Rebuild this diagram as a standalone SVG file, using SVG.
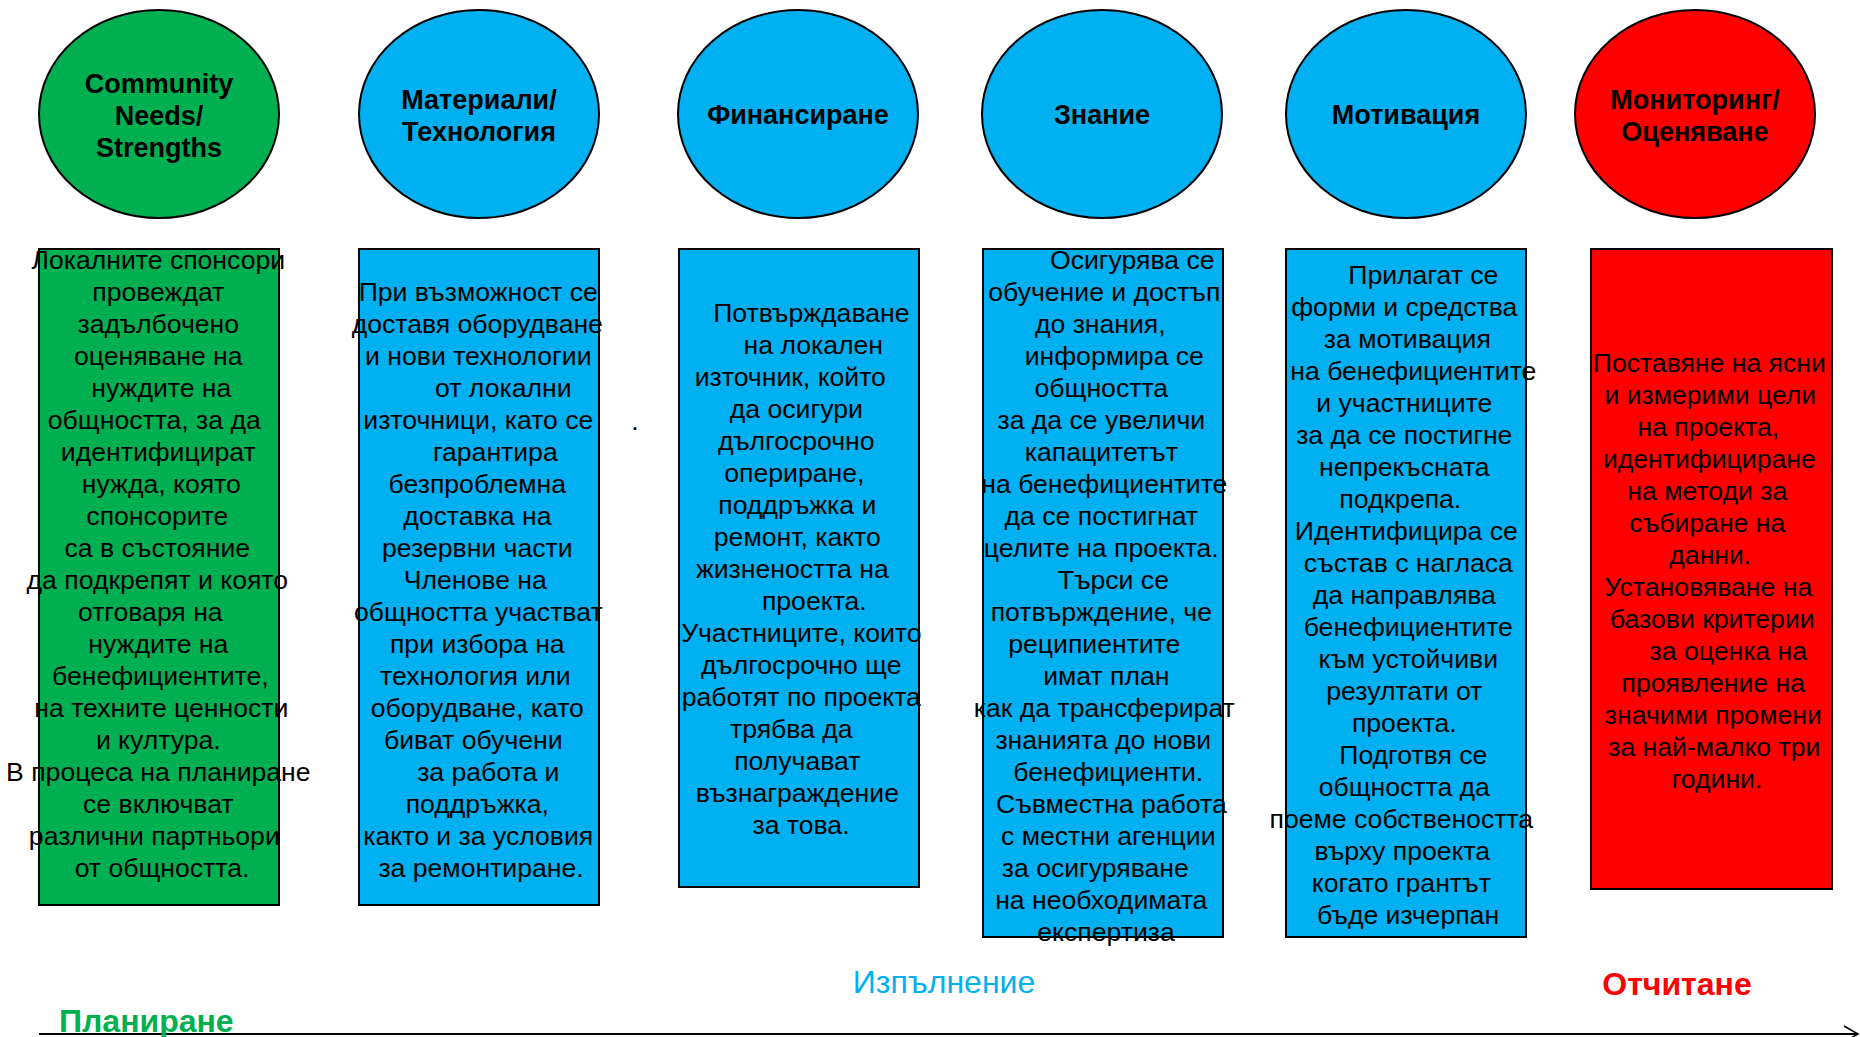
<svg xmlns="http://www.w3.org/2000/svg" width="1860" height="1037" viewBox="0 0 1860 1037">
<style>
.g{fill:#00B050;stroke:#000;stroke-width:2}
.b{fill:#00B0F0;stroke:#000;stroke-width:2}
.r{fill:#FF0000;stroke:#000;stroke-width:2}
.h{font-family:"Liberation Sans",Arial,sans-serif;font-size:27px;font-weight:bold;fill:#000;text-anchor:middle}
.t{font-family:"Liberation Sans",Arial,sans-serif;font-size:26.6px;fill:#000;text-anchor:middle}
.p{font-family:"Liberation Sans",Arial,sans-serif;font-size:32px}
</style>
<defs>
<marker id="arr" markerWidth="20" markerHeight="20" refX="16" refY="10" orient="auto" markerUnits="userSpaceOnUse">
<path d="M2,2 L16,10 L2,18" fill="none" stroke="#000" stroke-width="1.5"/>
</marker>
</defs>
<rect width="1860" height="1037" fill="#fff"/>

<g id="circle-community">
<ellipse class="g" cx="159" cy="114" rx="120" ry="104"/>
<text class="h"><tspan x="159" y="93">Community</tspan><tspan x="159" y="125">Needs/</tspan><tspan x="159" y="157">Strengths</tspan></text>
</g>
<g id="circle-materials">
<ellipse class="b" cx="479" cy="114" rx="120" ry="104"/>
<text class="h"><tspan x="479" y="109">Материали/</tspan><tspan x="479" y="141">Технология</tspan></text>
</g>
<g id="circle-financing">
<ellipse class="b" cx="798" cy="114" rx="120" ry="104"/>
<text class="h" x="798" y="124">Финансиране</text>
</g>
<g id="circle-knowledge">
<ellipse class="b" cx="1102" cy="114" rx="120" ry="104"/>
<text class="h" x="1102" y="124">Знание</text>
</g>
<g id="circle-motivation">
<ellipse class="b" cx="1406" cy="114" rx="120" ry="104"/>
<text class="h" x="1406" y="124">Мотивация</text>
</g>
<g id="circle-monitoring">
<ellipse class="r" cx="1695" cy="114" rx="120" ry="104"/>
<text class="h"><tspan x="1695" y="109">Мониторинг/</tspan><tspan x="1695" y="141">Оценяване</tspan></text>
</g>

<g id="box-community">
<rect class="g" x="39" y="249" width="240" height="656"/>
<text class="t" transform="translate(3,0)">
<tspan x="159" y="269">Локалните спонсори</tspan>
<tspan x="159" y="301">провеждат</tspan>
<tspan x="159" y="333">задълбочено</tspan>
<tspan x="159" y="365">оценяване на</tspan>
<tspan x="162" y="397">нуждите на</tspan>
<tspan x="155" y="429">общността, за да</tspan>
<tspan x="159" y="461">идентифицират</tspan>
<tspan x="162" y="493">нужда, която</tspan>
<tspan x="158" y="525">спонсорите</tspan>
<tspan x="158" y="557">са в състояние</tspan>
<tspan x="158" y="589">да подкрепят и която</tspan>
<tspan x="151" y="621">отговаря на</tspan>
<tspan x="159" y="653">нуждите на</tspan>
<tspan x="161" y="685">бенефициентите,</tspan>
<tspan x="162" y="717">на техните ценности</tspan>
<tspan x="159" y="749">и култура.</tspan>
<tspan x="159" y="781">В процеса на планиране</tspan>
<tspan x="159" y="813">се включват</tspan>
<tspan x="155" y="845">различни партньори</tspan>
<tspan x="159" y="877">от общността.</tspan>
</text>
</g>

<g id="box-materials">
<rect class="b" x="359" y="249" width="240" height="656"/>
<text class="t" transform="translate(3,0)">
<tspan x="479" y="301">При възможност се</tspan>
<tspan x="478" y="333">доставя оборудване</tspan>
<tspan x="479" y="365">и нови технологии</tspan>
<tspan x="504" y="397">от локални</tspan>
<tspan x="479" y="429">източници, като се</tspan>
<tspan x="496" y="461">гарантира</tspan>
<tspan x="478" y="493">безпроблемна</tspan>
<tspan x="478" y="525">доставка  на</tspan>
<tspan x="478" y="557">резервни части</tspan>
<tspan x="476" y="589">Членове на</tspan>
<tspan x="479" y="621">общността участват</tspan>
<tspan x="478" y="653">при избора на</tspan>
<tspan x="476" y="685">технология или</tspan>
<tspan x="478" y="717">оборудване,  като</tspan>
<tspan x="474" y="749">биват обучени</tspan>
<tspan x="489" y="781">за работа и</tspan>
<tspan x="478" y="813">поддръжка,</tspan>
<tspan x="479" y="845">както и за условия</tspan>
<tspan x="478" y="877">за ремонтиране.</tspan>
</text>
</g>

<text class="t" x="635" y="430">.</text>

<g id="box-financing">
<rect class="b" x="679" y="249" width="240" height="638"/>
<text class="t" transform="translate(3,0)">
<tspan x="812" y="322">Потвърждаване</tspan>
<tspan x="814" y="354">на локален</tspan>
<tspan x="791" y="386">източник, който</tspan>
<tspan x="797" y="418">да осигури</tspan>
<tspan x="797" y="450">дългосрочно</tspan>
<tspan x="795" y="482">опериране,</tspan>
<tspan x="798" y="514">поддръжка и</tspan>
<tspan x="798" y="546">ремонт, както</tspan>
<tspan x="793" y="578">жизнеността на</tspan>
<tspan x="815" y="610">проекта.</tspan>
<tspan x="802" y="642">Участниците, които</tspan>
<tspan x="802" y="674">дългосрочно ще</tspan>
<tspan x="802" y="706">работят по проекта</tspan>
<tspan x="792" y="738">трябва да</tspan>
<tspan x="798" y="770">получават</tspan>
<tspan x="798" y="802">възнаграждение</tspan>
<tspan x="798" y="834">за това.</tspan>
</text>
</g>

<g id="box-knowledge">
<rect class="b" x="983" y="249" width="240" height="688"/>
<text class="t" transform="translate(3,0)">
<tspan x="1133" y="269">Осигурява се</tspan>
<tspan x="1105" y="301">обучение и достъп</tspan>
<tspan x="1101" y="333">до знания,</tspan>
<tspan x="1115" y="365">информира се</tspan>
<tspan x="1102" y="397">общността</tspan>
<tspan x="1102" y="429">за да се увеличи</tspan>
<tspan x="1102" y="461">капацитетът</tspan>
<tspan x="1105" y="493">на бенефициентите</tspan>
<tspan x="1102" y="525">да се постигнат</tspan>
<tspan x="1102" y="557">целите на проекта.</tspan>
<tspan x="1114" y="589">Търси се</tspan>
<tspan x="1102" y="621">потвърждение, че</tspan>
<tspan x="1095" y="653">реципиентите</tspan>
<tspan x="1107" y="685">имат план</tspan>
<tspan x="1105" y="717">как да трансферират</tspan>
<tspan x="1104" y="749">знанията до нови</tspan>
<tspan x="1109" y="781">бенефициенти.</tspan>
<tspan x="1112" y="813">Съвместна работа</tspan>
<tspan x="1109" y="845">с местни агенции</tspan>
<tspan x="1096" y="877">за осигуряване</tspan>
<tspan x="1102" y="909">на необходимата</tspan>
<tspan x="1103" y="941">експертиза</tspan>
</text>
</g>

<g id="box-motivation">
<rect class="b" x="1286" y="249" width="240" height="688"/>
<text class="t" transform="translate(3,0)">
<tspan x="1424" y="284">Прилагат се</tspan>
<tspan x="1405" y="316">форми и средства</tspan>
<tspan x="1408" y="348">за мотивация</tspan>
<tspan x="1414" y="380">на бенефициентите</tspan>
<tspan x="1405" y="412">и участниците</tspan>
<tspan x="1405" y="444">за  да се постигне</tspan>
<tspan x="1405" y="476">непрекъсната</tspan>
<tspan x="1401" y="508">подкрепа.</tspan>
<tspan x="1407" y="540">Идентифицира се</tspan>
<tspan x="1409" y="572">състав с нагласа</tspan>
<tspan x="1405" y="604">да направлява</tspan>
<tspan x="1409" y="636">бенефициентите</tspan>
<tspan x="1409" y="668">към устойчиви</tspan>
<tspan x="1405" y="700">резултати от</tspan>
<tspan x="1405" y="732">проекта.</tspan>
<tspan x="1414" y="764">Подготвя се</tspan>
<tspan x="1405" y="796">общността да</tspan>
<tspan x="1402" y="828">поеме собствеността</tspan>
<tspan x="1403" y="860">върху проекта</tspan>
<tspan x="1402" y="892">когато грантът</tspan>
<tspan x="1405" y="924">бъде изчерпан</tspan>
</text>
</g>

<g id="box-monitoring">
<rect class="r" x="1591" y="249" width="241" height="640"/>
<text class="t" transform="translate(3,0)">
<tspan x="1710" y="372">Поставяне на ясни</tspan>
<tspan x="1711" y="404">и измерими цели</tspan>
<tspan x="1709" y="436">на проекта,</tspan>
<tspan x="1710" y="468">идентифициране</tspan>
<tspan x="1708" y="500">на методи за</tspan>
<tspan x="1708" y="532">събиране на</tspan>
<tspan x="1711" y="564">данни.</tspan>
<tspan x="1709" y="596">Установяване на</tspan>
<tspan x="1713" y="628">базови критерии</tspan>
<tspan x="1729" y="660">за оценка на</tspan>
<tspan x="1714" y="692">проявление на</tspan>
<tspan x="1714" y="724">значими промени</tspan>
<tspan x="1715" y="756">за най-малко три</tspan>
<tspan x="1714" y="788">години.</tspan>
</text>
</g>

<g id="connectors">
<line x1="39" y1="1034" x2="1858" y2="1034" stroke="#000" stroke-width="2" marker-end="url(#arr)"/>
</g>

<g id="phase-labels">
<text class="p" x="59" y="1032" font-weight="bold" fill="#00B050">Планиране</text>
<text class="p" x="944" y="993" fill="#00B0F0" text-anchor="middle">Изпълнение</text>
<text class="p" x="1677" y="995" font-weight="bold" fill="#FF0000" text-anchor="middle">Отчитане</text>
</g>
</svg>
